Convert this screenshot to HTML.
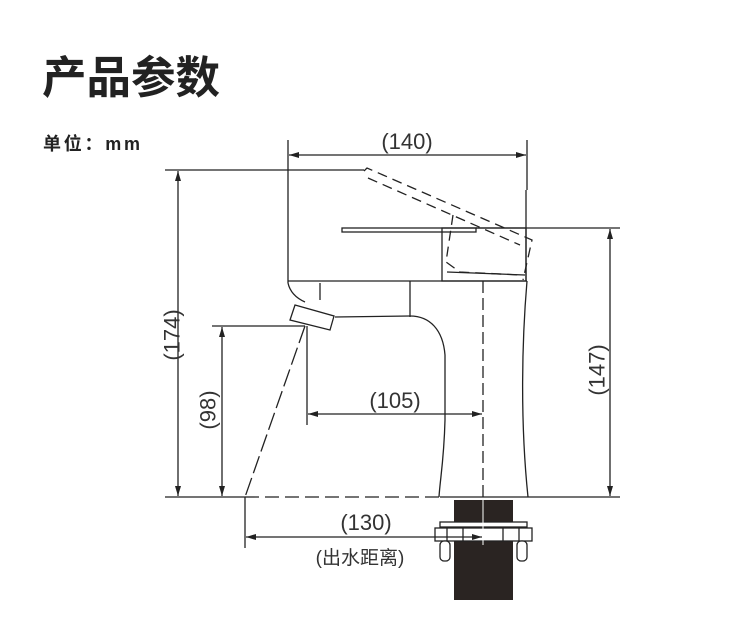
<!DOCTYPE html>
<html><head><meta charset="utf-8"><style>
html,body{margin:0;padding:0;background:#fff;width:750px;height:617px;overflow:hidden}
svg{display:block}
text{font-family:"Liberation Sans","Noto Sans CJK SC",sans-serif}
</style></head><body>
<svg width="750" height="617" viewBox="0 0 750 617" xmlns="http://www.w3.org/2000/svg">
<defs>
<marker id="a" viewBox="0 0 10 6" refX="10" refY="3" markerWidth="10" markerHeight="6" orient="auto-start-reverse" markerUnits="userSpaceOnUse"><path d="M0,0L10,3L0,6z" fill="#222"/></marker>
</defs>
<text x="42" y="93" font-size="44.5" font-weight="bold" fill="#222" font-family="'Noto Sans CJK SC',sans-serif">产品参数</text>
<text x="43" y="150" font-size="18" font-weight="bold" fill="#222" font-family="'Noto Sans CJK SC',sans-serif" textLength="97">单位：mm</text>

<g stroke="#222" stroke-width="1.3" fill="none">
<line x1="288" y1="140" x2="288" y2="283"/>
<line x1="527" y1="140" x2="527" y2="190"/>
<line x1="289" y1="155" x2="526" y2="155" marker-start="url(#a)" marker-end="url(#a)"/>
<line x1="165" y1="170" x2="364" y2="170"/>
<line x1="178" y1="171" x2="178" y2="496" marker-start="url(#a)" marker-end="url(#a)"/>
<path d="M364,171 L367,168 L532,240 L523,280" stroke-dasharray="10,6"/>
<path d="M368,178 L520,245" stroke-dasharray="10,6"/>
<path d="M453,215 L446,262 L460,272 L520,275" stroke-dasharray="10,6"/>
<rect x="342" y="228" width="134" height="4"/>
<line x1="476" y1="228" x2="620" y2="228"/>
<line x1="526" y1="190" x2="526" y2="281"/>
<rect x="442" y="228" width="84" height="53"/>
<line x1="447" y1="272" x2="525" y2="275"/>
<line x1="610" y1="229" x2="610" y2="496" marker-start="url(#a)" marker-end="url(#a)"/>
<line x1="288" y1="281" x2="527" y2="281"/>
<path d="M288,283 C290,292 296,298 305,302"/>
<line x1="320" y1="283" x2="320" y2="300"/>
<line x1="410" y1="281" x2="410" y2="317"/>
<path d="M335,317 L410,316 C430,316 443,330 445,355 L445,420 C444,460 440,480 439,497"/>
<path d="M527,281 C522,340 520,420 528,497"/>
<polygon points="295,305 334,316 330,330 290,320" fill="#fff"/>
<line x1="483" y1="281" x2="483" y2="545" stroke-dasharray="12,5"/>
<line x1="165" y1="497" x2="245" y2="497"/>
<line x1="245" y1="497" x2="440" y2="497" stroke-dasharray="14,6"/>
<line x1="440" y1="497" x2="620" y2="497"/>
<line x1="212" y1="326" x2="305" y2="326"/>
<line x1="222" y1="327" x2="222" y2="496" marker-start="url(#a)" marker-end="url(#a)"/>
<line x1="305" y1="326" x2="245" y2="497" stroke-dasharray="18,5"/>
<line x1="307" y1="326" x2="307" y2="425"/>
<line x1="308" y1="414" x2="482" y2="414" marker-start="url(#a)" marker-end="url(#a)"/>
<line x1="245" y1="497" x2="245" y2="548"/>
</g>
<rect x="454" y="500" width="59" height="100" fill="#2a2422"/>
<g stroke="#222" stroke-width="1.3" fill="#fff">
<rect x="440" y="522" width="87" height="5"/>
<rect x="435" y="528" width="97" height="13"/>
<rect x="440" y="541" width="10" height="20" rx="4"/>
<rect x="517" y="541" width="10" height="20" rx="4"/>
<line x1="447" y1="528" x2="447" y2="541"/><line x1="463" y1="528" x2="463" y2="541"/>
<line x1="503" y1="528" x2="503" y2="541"/><line x1="519" y1="528" x2="519" y2="541"/>
</g>
<line x1="483" y1="500" x2="483" y2="545" stroke="#fff" stroke-width="1"/>
<line x1="246" y1="537" x2="482" y2="537" stroke="#222" stroke-width="1.3" marker-start="url(#a)" marker-end="url(#a)"/>

<g fill="#333" font-size="22">
<text x="407" y="149" text-anchor="middle">(140)</text>
<text x="395" y="408" text-anchor="middle">(105)</text>
<text x="366" y="530" text-anchor="middle">(130)</text>
<text x="360" y="564" text-anchor="middle" font-size="19" font-family="'Noto Sans CJK SC',sans-serif">(出水距离)</text>
<text transform="translate(172,335) rotate(-90)" text-anchor="middle" dominant-baseline="central">(174)</text>
<text transform="translate(208,410) rotate(-90)" text-anchor="middle" dominant-baseline="central">(98)</text>
<text transform="translate(597,370) rotate(-90)" text-anchor="middle" dominant-baseline="central">(147)</text>
</g>
</svg>
</body></html>
